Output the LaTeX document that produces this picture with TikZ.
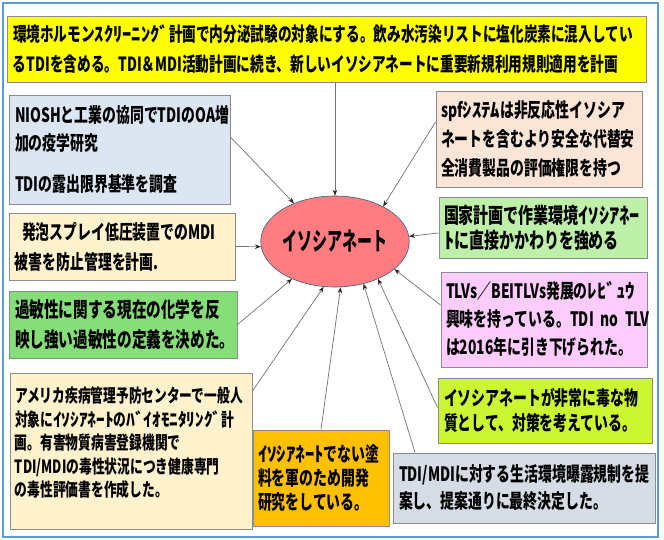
\documentclass[tikz,border=0pt]{standalone}
\usepackage{fontspec}
\usetikzlibrary{shapes.geometric,arrows.meta,calc}
\newfontfamily\jp[FakeStretch=0.70]{Noto Sans CJK JP}
\newfontfamily\jph[FakeStretch=0.95]{Noto Sans CJK JP}
\newfontfamily\jpn[FakeStretch=0.60]{Noto Sans CJK JP}
\newcommand\jpfs[2]{\jp\bfseries\fontsize{#1}{#2}\selectfont}
\newcommand\hw[1]{{\jph\bfseries #1}}
\definecolor{cYellow}{HTML}{FFFF00}
\definecolor{cBlue}{HTML}{DCE6F2}
\definecolor{cCream}{HTML}{FFF2CC}
\definecolor{cGreen}{HTML}{86DE78}
\definecolor{cGreenB}{HTML}{BEF0AA}
\definecolor{cPeach}{HTML}{FBE5D6}
\definecolor{cPink}{HTML}{FFCCFF}
\definecolor{cLime}{HTML}{CCF532}
\definecolor{cGray}{HTML}{D6DCE5}
\definecolor{cOrange}{HTML}{FFC000}
\definecolor{cEll}{HTML}{FF7C80}
\definecolor{cFrame}{HTML}{5B9BD5}
\begin{document}
\begin{tikzpicture}[x=1pt,y=-1pt,
  box/.style={draw=black!45, line width=1pt, rectangle, inner xsep=6pt, inner ysep=0pt, align=left},
  arr/.style={draw=black!55, line width=0.7pt, -{Stealth[length=6pt,width=4.5pt,black!85]}}]
\fill[white] (0,0) rectangle (664,539);
\useasboundingbox (0,0) rectangle (664,539);
\draw[cFrame, line width=2pt] (3,3) rectangle (658,537);

\node[box, fill=cYellow, minimum width=639pt, minimum height=66pt, text width=627pt, font=\jpfs{19.5}{30}] (top) at (326.5,49)
 {環境ホルモン\hw{ｽｸﾘｰﾆﾝｸﾞ}計画で内分泌試験の対象にする。飲み水汚染リストに塩化炭素に混入してい\\るTDIを含める。TDI＆MDI活動計画に続き、新しいイソシアネートに重要新規利用規則適用を計画};

\node[box, fill=cBlue, minimum width=221pt, minimum height=109pt, text width=209pt, font=\jpfs{19.8}{28}] (blue) at (119.5,149.5)
 {NIOSHと工業の協同でTDIのOA増\\加の疫学研究\\[13pt]TDIの露出限界基準を調査};

\node[box, fill=cCream, minimum width=226pt, minimum height=67pt, text width=214pt, font=\jpfs{19.8}{30}] (cream) at (122,246.5)
 {\hspace*{7pt}発泡スプレイ低圧装置でのMDI\\被害を防止管理を計画.};

\node[box, fill=cGreen, minimum width=228pt, minimum height=67pt, text width=216pt, font=\jpfs{20.9}{30}] (green) at (123,324.5)
 {過敏性に関する現在の化学を反\\映し強い過敏性の定義を決めた。};

\node[box, fill=cCream, minimum width=242pt, minimum height=156pt, text width=232pt, inner xsep=5pt, font=\jpfs{18.2}{23.5}] (cream2) at (131,451)
 {アメリカ疾病管理予防センターで一般人\\対象に\hw{ｲｿｼｱﾈｰﾄ}の\hw{ﾊﾞｲｵﾓﾆﾀﾘﾝｸﾞ}計\\画。有害物質病害登録機関で\\TDI/MDIの毒性状況につき健康専門\\の毒性評価書を作成した。\\[-5pt]\mbox{}};

\node[box, fill=cOrange, minimum width=136pt, minimum height=96pt, text width=126pt, inner xsep=5pt, font=\jpfs{19.8}{24}] (orange) at (321,478)
 {\hw{ｲｿｼｱﾈｰﾄ}でない塗\\料を軍のため開発\\研究をしている。};

\node[box, fill=cGray, minimum width=262pt, minimum height=70pt, text width=250pt, font=\jpfs{19.8}{27}] (gray) at (524,488)
 {TDI/MDIに対する生活環境曝露規制を提\\案し、提案通りに最終決定した。};

\node[box, fill=cLime, minimum width=214pt, minimum height=65pt, text width=202pt, font=\jpfs{19.8}{25}] (lime) at (545,410.5)
 {イソシアネートが非常に毒な物\\質として、対策を考えている。};

\node[box, fill=cPink, minimum width=206pt, minimum height=95pt, text width=196pt, inner xsep=5pt, font=\jpfs{19.8}{28}] (pink) at (544,319.5)
 {TLVs／BEITLVs発展の\hw{ﾚﾋﾞｭｳ}\\\mbox{興味を持っている。TDI no TLV}\\は2016年に引き下げられた。};

\node[box, fill=cGreenB, minimum width=208pt, minimum height=61pt, text width=198pt, inner xsep=5pt, font=\jpfs{21.4}{25}] (green2) at (543,227.5)
 {国家計画で作業環境\hw{ｲｿｼｱﾈｰ}\\\hw{ﾄ}に直接かかわりを強める};

\node[box, fill=cPeach, minimum width=206pt, minimum height=96pt, text width=196pt, inner xsep=5pt, font=\jpfs{19.8}{29}] (peach) at (539,139)
 {spf\hw{ｼｽﾃﾑ}は非反応性イソシア\\ネートを含むより安全な代替安\\全消費製品の評価権限を持つ};

\node[ellipse, draw=black!40!cFrame, line width=0.6pt, fill=cEll, minimum width=142pt, minimum height=91pt, inner sep=0pt, font=\jpn\bfseries\fontsize{25}{28}\selectfont] (iso) at (335,241.5) {イソシアネート};

\draw[arr] (top.south -| iso.north) -- (iso.north);
\draw[arr] ([yshift=12.5pt]blue.east) -- (iso.137);
\draw[arr] (cream.east) -- (iso.184);
\draw[arr] (green.east) -- (iso.221);
\draw[arr] ([yshift=60pt]cream2.east) -- (iso.256);
\draw[arr] (orange.north) -- (iso.277);
\draw[arr] ([xshift=-109pt]gray.north) -- (iso.304);
\draw[arr] ([yshift=3pt]lime.west) -- (iso.319);
\draw[arr] ([yshift=14.5pt]pink.west) -- (iso.335);
\draw[arr] ([yshift=-5.5pt]green2.west) -- (iso.4);
\draw[arr] ([yshift=17pt]peach.west) -- (iso.36);
\end{tikzpicture}
\end{document}
